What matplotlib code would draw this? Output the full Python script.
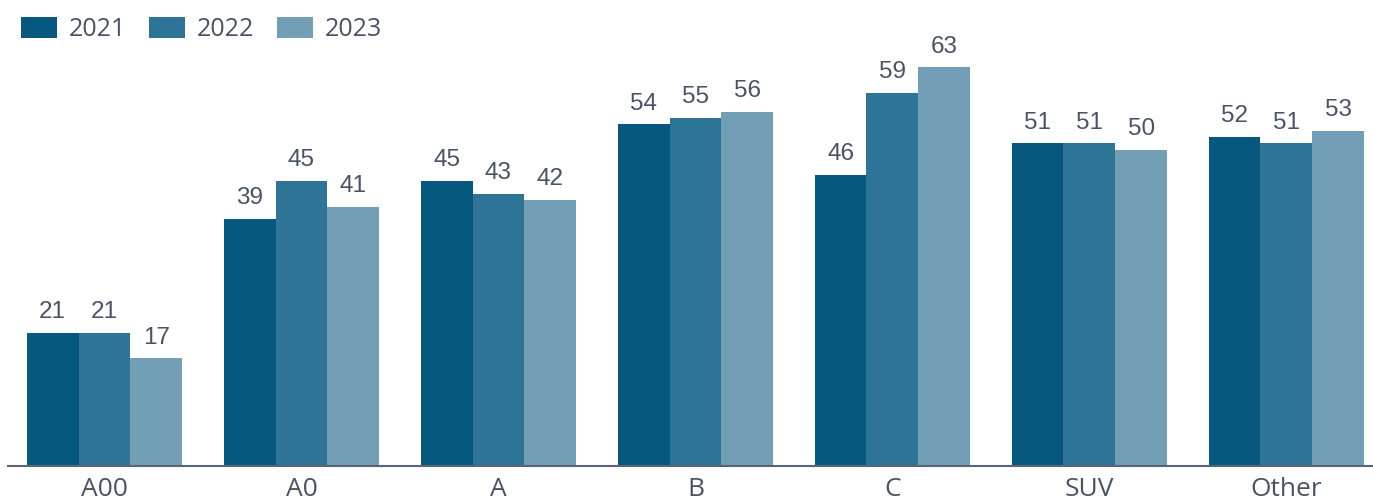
import matplotlib.pyplot as plt
import numpy as np

categories = ['A00', 'A0', 'A', 'B', 'C', 'SUV', 'Other']
years = ['2021', '2022', '2023']
v2021 = [21, 39, 45, 54, 46, 51, 52]
v2022 = [21, 45, 43, 55, 59, 51, 51]
v2023 = [17, 41, 42, 56, 63, 50, 53]

colors = ['#06587f', '#2e7496', '#729fb5']
text_color = '#4a5366'

fig = plt.figure(figsize=(13.73, 5.01), dpi=100)
ax = fig.add_axes([8 / 1373, 35 / 501, 1 - 8 / 1373, 1 - 35 / 501 - 23 / 501])

x = np.arange(len(categories))
width = 0.263
for i, (vals, year) in enumerate(zip([v2021, v2022, v2023], years)):
    bars = ax.bar(x + (i - 1) * width, vals, width, color=colors[i], label=year)
    for b, v in zip(bars, vals):
        ax.annotate(f'{v}', (b.get_x() + b.get_width() / 2, v), xytext=(0, 7),
                    textcoords='offset points', ha='center', va='bottom',
                    fontsize=17.5, color=text_color, family='Liberation Sans')

ax.set_xlim(-0.49, 6.44)
ax.set_ylim(0, 70)
ax.set_xticks(x)
ax.set_xticklabels(categories, fontsize=19, color=text_color, family='Open Sans')
ax.tick_params(axis='x', length=0, pad=8)
ax.set_yticks([])
for s in ['top', 'right', 'left']:
    ax.spines[s].set_visible(False)
ax.spines['bottom'].set_color('#5a6478')
ax.spines['bottom'].set_linewidth(1.5)

leg = fig.legend(loc='upper left', bbox_to_anchor=(0.0, 1.008), ncol=3, frameon=False,
                 prop={'family': 'Open Sans', 'size': 18}, handlelength=1.44, handleheight=0.88,
                 handletextpad=0.48, columnspacing=0.9, borderaxespad=0.45)
for t in leg.get_texts():
    t.set_color(text_color)

fig.savefig('out.png', dpi=100)
